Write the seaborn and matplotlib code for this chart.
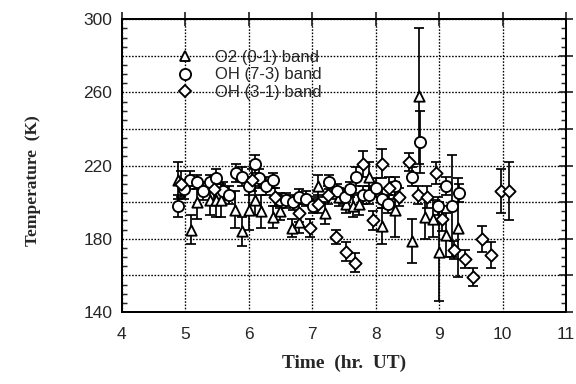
import numpy as np
import pandas as pd
import seaborn as sns
import matplotlib.pyplot as plt
from matplotlib.lines import Line2D
from matplotlib.ticker import MultipleLocator, FuncFormatter

# O2 (0-1) band
o2_time = [4.89, 5.10, 5.19, 5.39, 5.49, 5.57, 5.78, 5.90, 6.01, 6.10, 6.20, 6.38, 6.49,
           6.69, 6.80, 7.09, 7.20, 7.43, 7.54, 7.64, 7.74, 7.89, 8.10, 8.30, 8.58, 8.68,
           8.78, 8.90, 8.99, 9.10, 9.30]
o2_temp = [212, 185, 200, 201, 201, 201, 196, 184, 196, 201, 195, 192, 195,
           186, 189, 209, 194, 203, 199, 198, 199, 214, 187, 196, 179, 258,
           192, 191, 173, 182, 186]
o2_err = [10, 8, 9, 8, 9, 9, 10, 8, 11, 8, 9, 6, 5,
          5, 6, 6, 6, 5, 5, 6, 6, 8, 10, 15, 12, 37,
          12, 10, 27, 12, 27]

# OH (7-3) band
oh73_time = [4.89, 4.98, 5.07, 5.19, 5.29, 5.39, 5.49, 5.59, 5.69, 5.80, 5.90, 6.01, 6.10,
             6.17, 6.28, 6.38, 6.49, 6.59, 6.70, 6.80, 6.91, 7.01, 7.27, 7.39, 7.51, 7.60,
             7.69, 7.80, 7.89, 8.00, 8.10, 8.19, 8.30, 8.58, 8.70, 8.98, 9.10, 9.20, 9.31]
oh73_temp = [198, 207, 212, 211, 206, 211, 213, 206, 204, 216, 214, 209, 221,
             213, 209, 212, 201, 201, 200, 203, 202, 198, 211, 206, 203, 207,
             214, 204, 204, 208, 202, 199, 209, 214, 233, 198, 209, 198, 205]
oh73_err = [6, 5, 5, 4, 5, 4, 5, 5, 5, 5, 5, 5, 5,
            5, 5, 4, 4, 4, 4, 4, 4, 4, 4, 4, 4, 4,
            5, 5, 5, 5, 5, 5, 5, 5, 17, 5, 5, 28, 5]

# OH (3-1) band
oh31_time = [4.93, 5.45, 6.05, 6.42, 6.80, 6.96, 7.09, 7.25, 7.38, 7.54, 7.67, 7.80, 7.96,
             8.10, 8.21, 8.37, 8.52, 8.66, 8.81, 8.95, 9.05, 9.24, 9.40, 9.54, 9.68, 9.82,
             9.97, 10.10]
oh31_temp = [210, 207, 212, 203, 194, 186, 199, 204, 181, 173, 167, 221, 190,
             221, 208, 203, 222, 204, 203, 216, 191, 174, 169, 159, 180, 171,
             206, 206]
oh31_err = [7, 6, 6, 5, 5, 5, 5, 5, 4, 5, 5, 7, 5,
            8, 6, 5, 5, 5, 6, 6, 7, 5, 5, 5, 7, 7,
            12, 16]

labels = ["O2 (0-1) band", "OH (7-3) band", "OH (3-1) band"]
markers = {labels[0]: "^", labels[1]: "o", labels[2]: "D"}
sizes = {labels[0]: 60, labels[1]: 70, labels[2]: 42}

df = pd.concat([
    pd.DataFrame({"time": o2_time, "temp": o2_temp, "err": o2_err, "band": labels[0]}),
    pd.DataFrame({"time": oh73_time, "temp": oh73_temp, "err": oh73_err, "band": labels[1]}),
    pd.DataFrame({"time": oh31_time, "temp": oh31_temp, "err": oh31_err, "band": labels[2]}),
])

sns.set_style("white")
plt.rcParams['font.family'] = ['Liberation Sans', 'DejaVu Sans']

fig = plt.figure(figsize=(6, 4), dpi=96)
ax = fig.add_axes([0.211, 0.1875, 0.772, 0.7625])

for band in labels:
    sub = df[df["band"] == band]
    ax.errorbar(sub["time"], sub["temp"], yerr=sub["err"], fmt="none",
                ecolor="black", elinewidth=1.3, capsize=3.5, capthick=1.3, zorder=2)
    sns.scatterplot(data=sub, x="time", y="temp", marker=markers[band], s=sizes[band],
                    color="white", edgecolor="black", linewidth=1.4, ax=ax, zorder=3,
                    legend=False)

ax.set_xlim(4, 11)
ax.set_ylim(140, 300)
ax.xaxis.set_major_locator(MultipleLocator(1))
ax.yaxis.set_major_locator(MultipleLocator(20))
ax.yaxis.set_minor_locator(MultipleLocator(5))
ax.yaxis.set_major_formatter(FuncFormatter(
    lambda v, p: f"{int(round(v))}" if int(round(v - 140)) % 40 == 0 else ""))
ax.tick_params(axis="both", which="major", direction="inout", length=10, width=1.3,
               top=True, right=True, labelsize=13)
ax.tick_params(axis="x", which="major", pad=6)
ax.tick_params(axis="y", which="major", pad=2)
ax.tick_params(axis="y", which="minor", direction="in", length=4, width=1.1,
               left=True, right=True)
ax.grid(True, which="major", linestyle=(0, (1.2, 1.2)), color="black", linewidth=1.0)
for s in ax.spines.values():
    s.set_linewidth(1.5)
    s.set_color("black")

ax.set_xlabel("Time  (hr.  UT)", family="Liberation Serif", fontweight="bold", fontsize=14.5, labelpad=10)
ax.set_ylabel("Temperature  (K)", family="Liberation Serif", fontweight="bold", fontsize=13)
ax.yaxis.set_label_coords(-0.182, 0.45)

handles = [Line2D([], [], linestyle="none", marker=markers[b], markersize=np.sqrt(sizes[b]),
                  markerfacecolor="white", markeredgecolor="black", markeredgewidth=1.4)
           for b in labels]
ax.legend(handles, labels, loc="upper left", bbox_to_anchor=(0.125, 0.895), frameon=False,
          fontsize=12.5, handlelength=1.0, handletextpad=1.3, labelspacing=0.15,
          borderpad=0, borderaxespad=0)

fig.savefig("out.png", dpi=96)
